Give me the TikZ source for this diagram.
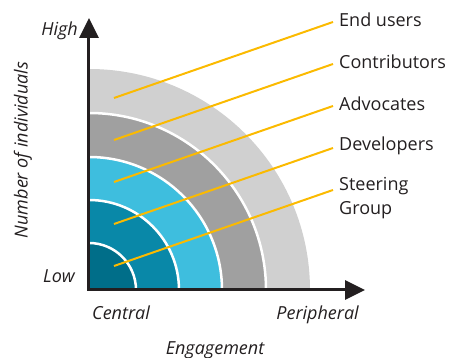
\documentclass[tikz,border=0pt]{standalone}
\usepackage{fontspec}
\setmainfont{Open Sans}
\usepackage{tikz}
\usetikzlibrary{arrows.meta}
\usetikzlibrary{positioning}
\definecolor{ink}{RGB}{35,31,32}
\definecolor{amber}{RGB}{251,186,0}
\definecolor{ringa}{RGB}{0,110,137}
\definecolor{ringb}{RGB}{9,136,168}
\definecolor{ringc}{RGB}{62,190,222}
\definecolor{ringd}{RGB}{160,160,160}
\definecolor{ringe}{RGB}{208,208,208}
\tikzset{lbl/.style = {text = ink, inner sep = 0, font = \fontsize{18}{24}\selectfont}}
\tikzset{axlbl/.style = {lbl, font = \fontsize{18}{24}\selectfont\itshape}}
\tikzset{gap/.style = {draw = white, line width = 2.5}}
\tikzset{lead/.style = {draw = amber, line width = 2}}

\begin{document}
\begin{tikzpicture}[x = 1pt, y = 1pt]
    \useasboundingbox (-89, -68) rectangle (364, 290);
    \fill [ringe] (0, 0) -- (221, 0) arc (0:90:221) -- cycle;
    \fill [ringd] (0, 0) -- (177, 0) arc (0:90:177) -- cycle;
    \fill [ringc] (0, 0) -- (133, 0) arc (0:90:133) -- cycle;
    \fill [ringb] (0, 0) -- (90, 0) arc (0:90:90) -- cycle;
    \fill [ringa] (0, 0) -- (47, 0) arc (0:90:47) -- cycle;
    \draw [gap] (177, 0) arc (0:90:177);
    \draw [gap] (133, 0) arc (0:90:133);
    \draw [gap] (90, 0) arc (0:90:90);
    \draw [gap] (47, 0) arc (0:90:47);

    \coordinate (top) at (0, 272);
    \coordinate (corner) at (0, 0);
    \coordinate (right) at (276, 0);
    \draw [ink, line width = 3, {Triangle[length = 20, width = 19]}-{Triangle[length = 20, width = 19]}]
        (top) -- (corner) -- (right);

    \node [axlbl, anchor = east] (high) at (-11, 259) {High};
    \node [axlbl, anchor = east] (low) at (-14, 14) {Low};
    \node [axlbl, anchor = west] (central) at (3, -23) {Central};
    \node [axlbl, anchor = east] (peripheral) at (270, -25) {Peripheral};
    \node [axlbl] (engagement) at (126, -60) {Engagement};
    \node [axlbl, rotate = 90] (number) at (-66, 140) {Number of individuals};

    \coordinate (users) at (25, 192);
    \coordinate (contrib) at (25, 150);
    \coordinate (advoc) at (25, 108);
    \coordinate (devel) at (25, 66);
    \coordinate (steer) at (25, 24);
    \node [lbl, anchor = west] (userslbl) at (250, 270) {End users};
    \node [lbl, anchor = west] (contriblbl) at (250, 228) {Contributors};
    \node [lbl, anchor = west] (advoclbl) at (250, 186) {Advocates};
    \node [lbl, anchor = west] (devellbl) at (250, 144) {Developers};
    \node [lbl, anchor = west, align = left] (steerlbl) at (250, 92) {Steering\\Group};
    \draw [lead] (users) -- (244, 268);
    \draw [lead] (contrib) -- (244, 226);
    \draw [lead] (advoc) -- (244, 184);
    \draw [lead] (devel) -- (244, 142);
    \draw [lead] (steer) -- (244, 100);
\end{tikzpicture}
\end{document}
